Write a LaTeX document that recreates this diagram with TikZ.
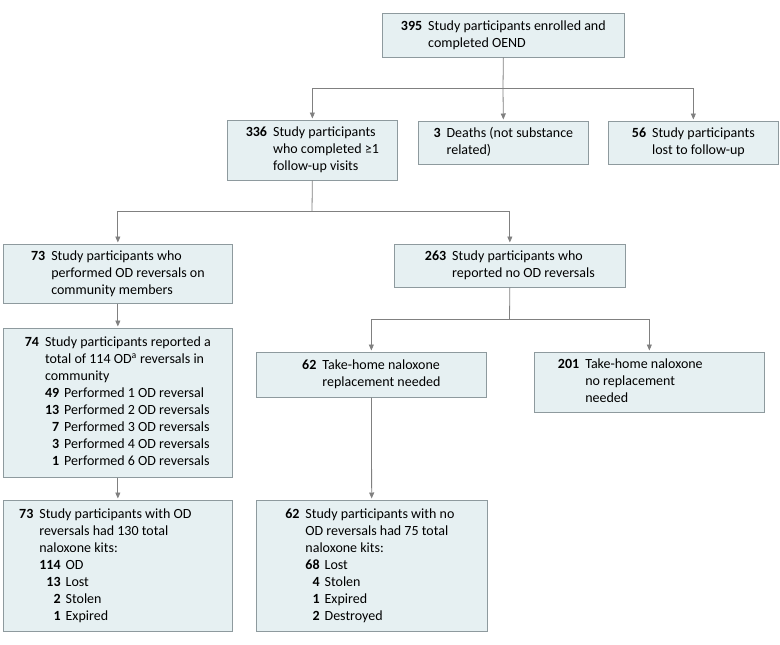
\documentclass[tikz,border=0pt]{standalone}
\usepackage{fontspec}
\setmainfont{Carlito}
\usepackage{tikz}
\usetikzlibrary{arrows.meta,positioning,calc}
\definecolor{boxfill}{HTML}{E6F0F2}
\definecolor{boxline}{HTML}{8E9A9E}
\definecolor{linkgray}{HTML}{808080}

% number column + text column, hanging indent
\newenvironment{cnt}{\begin{tabular}{@{}r@{\hspace{6pt}}l@{}}}{\end{tabular}}
\newenvironment{sublist}{\begin{tabular}[t]{@{}r@{\hspace{5pt}}l@{}}}{\end{tabular}}

\begin{document}
\begin{tikzpicture}[x=1pt,y=-1pt,
    font=\fontsize{14}{17}\selectfont,
    fbox/.style={draw=boxline,fill=boxfill,line width=0.7pt,anchor=north west,
                 inner sep=0pt,align=center},
    link/.style={draw=linkgray,line width=0.8pt},
    arr/.style={link,-{Triangle[length=6pt,width=5pt]},shorten >=1.5pt}]
  \useasboundingbox (0,0) rectangle (780,645);

  % top
  \node[fbox,minimum width=242pt,minimum height=44pt] (n395) at (382,13)
    {\begin{cnt}\textbf{395} & Study participants enrolled and\\ & completed OEND\end{cnt}};

  \node[fbox,minimum width=170pt,minimum height=60pt] (n336) at (227,120)
    {\begin{cnt}\textbf{336} & Study participants\\ & who completed ≥1\\ & follow-up visits\end{cnt}};
  \node[fbox,minimum width=170pt,minimum height=43pt] (n3) at (418,121)
    {\begin{cnt}\textbf{3} & Deaths (not substance\\ & related)\end{cnt}};
  \node[fbox,minimum width=170pt,minimum height=43pt] (n56) at (608,121)
    {\begin{cnt}\textbf{56} & Study participants\\ & lost to follow-up\end{cnt}};

  % second level
  \node[fbox,minimum width=229pt,minimum height=59pt] (n73) at (3,244)
    {\begin{cnt}\textbf{73} & Study participants who\\ & performed OD reversals on\\ & community members\end{cnt}};
  \node[fbox,minimum width=231pt,minimum height=43pt] (n263) at (394,244)
    {\begin{cnt}\textbf{263} & Study participants who\\ & reported no OD reversals\end{cnt}};

  \node[fbox,minimum width=229pt,minimum height=149pt] (n74) at (3,328)
    {\begin{cnt}\textbf{74} & Study participants reported a\\
       & total of 114 OD\textsuperscript{a} reversals in\\
       & community\\
       & \begin{sublist}
           \textbf{49} & Performed 1 OD reversal\\
           \textbf{13} & Performed 2 OD reversals\\
           \textbf{7} & Performed 3 OD reversals\\
           \textbf{3} & Performed 4 OD reversals\\
           \textbf{1} & Performed 6 OD reversals
         \end{sublist}\end{cnt}};

  \node[fbox,minimum width=230pt,minimum height=45pt] (n62) at (256,352)
    {\begin{cnt}\textbf{62} & Take-home naloxone\\ & replacement needed\end{cnt}};
  \node[fbox,minimum width=230pt,minimum height=60pt] (n201) at (534,352)
    {\begin{cnt}\textbf{201} & Take-home naloxone\\ & no replacement\\ & needed\end{cnt}\hspace{38pt}};

  % bottom
  \node[fbox,minimum width=229pt,minimum height=131pt] (n73b) at (3,500)
    {\begin{cnt}\textbf{73} & Study participants with OD\\
       & reversals had 130 total\\
       & naloxone kits:\\
       & \begin{sublist}
           \textbf{114} & OD\\
           \textbf{13} & Lost\\
           \textbf{2} & Stolen\\
           \textbf{1} & Expired
         \end{sublist}\end{cnt}\hspace{25pt}};
  \node[fbox,minimum width=231pt,minimum height=131pt] (n62b) at (256,500)
    {\begin{cnt}\textbf{62} & Study participants with no\\
       & OD reversals had 75 total\\
       & naloxone kits:\\
       & \begin{sublist}
           \textbf{68} & Lost\\
           \textbf{4} & Stolen\\
           \textbf{1} & Expired\\
           \textbf{2} & Destroyed
         \end{sublist}\end{cnt}\hspace{4pt}};

  % connectors
  \coordinate (j1) at (503,88);
  \coordinate (j2) at (312,211);
  \coordinate (j3) at (509.5,319);
  \draw[link] (n395.south) -- (j1);
  \draw[arr] (j1) -| (n336.north);
  \draw[arr] (j1) -- (n3.north);
  \draw[arr] (j1) -| (n56.north);
  \draw[link] (n336.south) -- (j2);
  \draw[arr] (j2) -| (n73.north);
  \draw[arr] (j2) -| (n263.north);
  \draw[arr] (n73) -- (n74);
  \draw[arr] (n74) -- (n73b);
  \draw[link] (n263.south) -- (j3);
  \draw[arr] (j3) -| (n62.north);
  \draw[arr] (j3) -| (n201.north);
  \draw[arr] (n62) -- (n62b);
\end{tikzpicture}
\end{document}
